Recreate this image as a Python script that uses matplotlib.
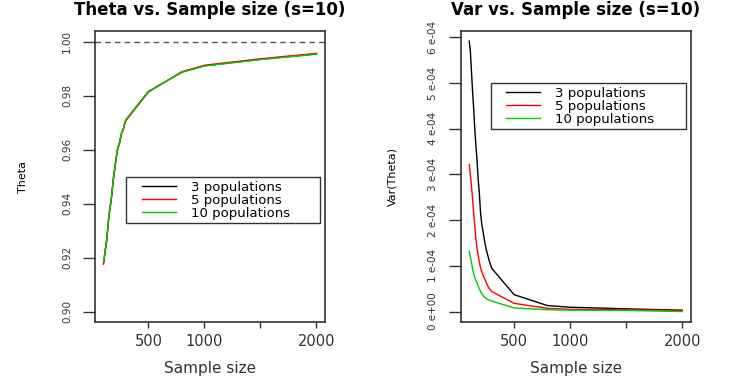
import numpy as np
import matplotlib
matplotlib.use("Agg")
import matplotlib.pyplot as plt
from matplotlib.ticker import FuncFormatter
from matplotlib.legend_handler import HandlerLine2D

# sample sizes
n = [100, 110, 120, 130, 140, 150, 160, 170, 180, 190, 200, 210, 220, 230,
     240, 250, 260, 270, 280, 290, 300, 500, 800, 1000, 1500, 2000]

# Theta estimates (3, 5, 10 populations)
theta3 = [0.918, 0.921, 0.924, 0.927, 0.932, 0.936, 0.939, 0.942, 0.946, 0.950,
          0.953, 0.956, 0.959, 0.961, 0.962, 0.964, 0.966, 0.967, 0.968, 0.970,
          0.971, 0.9815, 0.9888, 0.9911, 0.9935, 0.9955]
theta5 = [0.9175, 0.9208, 0.9238, 0.9268, 0.9318, 0.9358, 0.9388, 0.9418, 0.9458, 0.9498,
          0.9528, 0.9558, 0.9588, 0.9608, 0.9618, 0.9638, 0.9658, 0.9668, 0.9678, 0.9698,
          0.9708, 0.9814, 0.9889, 0.9913, 0.9937, 0.9957]
theta10 = [0.9185, 0.9212, 0.9242, 0.9272, 0.9322, 0.9362, 0.9392, 0.9422, 0.9462, 0.9502,
           0.9532, 0.9562, 0.9592, 0.9612, 0.9622, 0.9642, 0.9662, 0.9672, 0.9682, 0.9702,
           0.9712, 0.9816, 0.9887, 0.9910, 0.9934, 0.9954]

# Var(Theta) in units of 1e-4
var3 = [5.92, 5.70, 5.26, 4.82, 4.42, 3.98, 3.62, 3.30, 2.89, 2.60, 2.20, 1.95,
        1.80, 1.65, 1.50, 1.38, 1.28, 1.19, 1.10, 1.03, 0.95, 0.37, 0.13, 0.095, 0.06, 0.03]
var5 = [3.22, 3.00, 2.75, 2.45, 2.15, 1.87, 1.58, 1.38, 1.23, 1.08, 0.97, 0.88,
        0.82, 0.76, 0.71, 0.64, 0.59, 0.54, 0.50, 0.47, 0.44, 0.18, 0.07, 0.05, 0.04, 0.025]
var10 = [1.32, 1.20, 1.07, 0.93, 0.82, 0.74, 0.68, 0.63, 0.56, 0.50, 0.44, 0.40,
         0.36, 0.33, 0.31, 0.29, 0.27, 0.26, 0.25, 0.24, 0.23, 0.08, 0.04, 0.03, 0.025, 0.0]

labels = ["3 populations", "5 populations", "10 populations"]
colors = ["black", "#ff0000", "#00cd00"]

plt.rcParams['font.family'] = ['DejaVu Sans']

fig = plt.figure(figsize=(7.43, 3.78), dpi=100)
ax1 = fig.add_axes([95 / 743, 1 - 322.3 / 378, 230 / 743, 291.3 / 378])
ax2 = fig.add_axes([460.7 / 743, 1 - 322.3 / 378, 230 / 743, 291.3 / 378])

for ax in (ax1, ax2):
    for s in ax.spines.values():
        s.set_color('#333333')
        s.set_linewidth(1.2)
    ax.set_xlim(24, 2076)
    ax.set_xticks([500, 1000, 1500, 2000])
    ax.set_xticklabels(["500", "1000", "", "2000"])
    ax.tick_params(axis='x', direction='out', length=4.5, width=1, color='#333333',
                   labelsize=10.5, pad=4, labelcolor='#333333')
    ax.tick_params(axis='y', direction='out', length=8.5, width=1, color='#333333',
                   labelsize=7.5, pad=8, labelrotation=90, labelcolor='#333333')
    ax.set_xlabel("Sample size", fontsize=11, color='#333333')
    ax.xaxis.set_label_coords(0.5, -0.133)
    ax.xaxis.label.set_va('top')


def add_legend(ax, box):
    # lines start further in from the frame, like R's legend()
    hmap = {ln: HandlerLine2D(xpad=0.95) for ln in ax.get_lines()}
    leg = ax.legend(handles=ax.get_lines()[-3:], labels=labels,
                    bbox_to_anchor=box, loc='upper left', mode='expand',
                    fontsize=9.5, frameon=True, fancybox=False, edgecolor='black',
                    borderpad=0.25, labelspacing=0.0, handlelength=3.5,
                    handletextpad=1.15, borderaxespad=0, handler_map=hmap)
    leg.get_frame().set_linewidth(1.0)
    return leg


# left panel
ax1.axhline(1.0, color='#555555', lw=1, ls=(0, (4, 3)))
for y, c in zip([theta3, theta5, theta10], colors):
    ax1.plot(n, y, color=c, lw=1)
ax1.set_ylim(0.896, 1.004)
ax1.set_yticks([0.90, 0.92, 0.94, 0.96, 0.98, 1.00])
ax1.yaxis.set_major_formatter(FuncFormatter(lambda v, p: f"{v:.2f}"))
ax1.set_ylabel("Theta", fontsize=8)
ax1.yaxis.set_label_coords(-0.291, 0.5)
ax1.set_title("Theta vs. Sample size (s=10)", fontsize=12, fontweight='bold', pad=11.5)
add_legend(ax1, (0.135, 0.334, 0.843, 0.164))

# right panel
for y, c in zip([var3, var5, var10], colors):
    ax2.plot(n, np.array(y) * 1e-4, color=c, lw=1)
ax2.set_ylim(-0.235e-4, 6.14e-4)
ax2.set_yticks([0, 1e-4, 2e-4, 3e-4, 4e-4, 5e-4, 6e-4])


def sci(v, p):
    if abs(v) < 1e-12:
        return "0 e+00"
    e = int(np.floor(np.log10(abs(v)) + 1e-9))
    m = v / 10 ** e
    return f"{m:.0f} e{e:+03d}"


ax2.yaxis.set_major_formatter(FuncFormatter(sci))
ax2.set_ylabel("Var(Theta)", fontsize=8)
ax2.yaxis.set_label_coords(-0.277, 0.5)
ax2.set_title("Var vs. Sample size (s=10)", fontsize=12, fontweight='bold', pad=11.5)
add_legend(ax2, (0.130, 0.657, 0.848, 0.163))

for ax in (ax1, ax2):
    for t in ax.get_yticklabels():
        t.set_va('center')

fig.savefig("out.png", dpi=100)
